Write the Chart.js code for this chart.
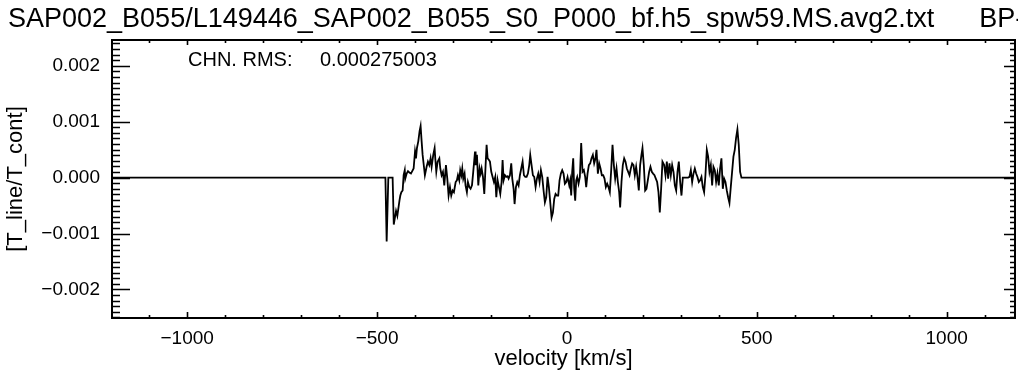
<!DOCTYPE html>
<html>
<head>
<meta charset="utf-8">
<script src="https://cdn.jsdelivr.net/npm/chart.js@4.4.1/dist/chart.umd.min.js"></script>
<style>
  body { margin: 0; background: #fff; }
  #wrap { width: 1018px; height: 376px; }
</style>
</head>
<body>
<div id="wrap"><canvas id="spec" width="1018" height="376"></canvas></div>
<script>
// spectrum: velocity [km/s] and T_line/T_cont
const velocity = [
  -1198, -478, -474.7, -470.3, -459, -456, -450, -446.6, -441, -438.7,
  -436, -432.6, -430, -427, -425.6, -422, -418.6, -415, -410.7, -403.7,
  -400, -397.5, -395, -391.4, -388, -385.3, -382.6, -380, -376.5, -374,
  -369.5, -366, -362.5, -359, -356.3, -352, -348.4, -346.7, -344, -340.5,
  -336, -333.5, -330, -326.5, -323, -318.6, -315, -311.6, -308, -304.6,
  -301, -297.6, -293, -289.7, -287, -283.5, -281, -278, -275.6, -273,
  -269.5, -267, -263.4, -260.7, -257, -253.7, -250, -246.7, -242, -240.4,
  -236.9, -233.4, -229.9, -227.2, -224.6, -221.1, -217.6, -214.1, -211.5, -208.8,
  -205.3, -202.7, -199.2, -195.7, -192.2, -188.7, -186, -182.5, -179, -175.5,
  -172, -169.4, -166.7, -163.2, -159.7, -156.2, -153.6, -150.1, -146.6, -143.9,
  -140.4, -137.8, -134.3, -130.8, -127.3, -123.8, -120.3, -116.7, -113.2, -109.7,
  -106.2, -102.7, -99.2, -96.6, -93.1, -89.6, -86.1, -82.5, -79, -75.5,
  -72, -68.5, -65, -61.5, -58, -54.5, -51, -47.5, -43.9, -40.4,
  -36.9, -33.4, -29.9, -26.4, -22.9, -19.4, -15.9, -12.4, -8.9, -5.4,
  -1.8, 1.7, 6.1, 8.7, 11.3, 13.9, 16.6, 19.2, 21.8, 24.5,
  27.1, 30.6, 34.1, 37.6, 41.1, 44.6, 48.1, 50.8, 54.3, 57.8,
  61.3, 64.8, 68.3, 71.8, 75.3, 77.9, 81.5, 85, 88.5, 92,
  95.5, 99, 102.5, 106, 109.5, 113, 116.6, 120.1, 123.6, 127.1,
  130.6, 134.1, 137.6, 140.2, 143.7, 147.2, 150.8, 154.3, 157.8, 161.3,
  164.8, 168.3, 171.8, 175.3, 178.8, 182.3, 185.8, 189.3, 192.8, 196.3,
  199, 202.5, 206, 209.5, 213, 216.5, 220, 223.5, 227, 230.6,
  234.1, 237.6, 241.1, 244.6, 248.1, 251.6, 256.1, 259.6, 263.1, 266.6,
  270.1, 273.6, 277.1, 280.7, 284.2, 287.7, 291.2, 294.7, 298.2, 301.7,
  305.2, 319.2, 322.8, 326.3, 329.8, 333.3, 336.8, 340.3, 343.8, 347.3,
  350.8, 354.3, 357.8, 361.3, 364.8, 368.4, 371.9, 375.4, 378.9, 382.4,
  385.9, 389.4, 392.9, 396.4, 399.9, 403.4, 406.9, 410.5, 414, 417.5,
  421, 424.5, 428, 431.5, 435, 438.5, 442, 445.5, 449, 452.5,
  456.1, 459.6, 1180
];
const ratio = [
  0, 0, -0.00114, 0, 0, -0.00084, -0.000594, -0.000685, -0.000412, -0.000321,
  -0.000261, -0.00023, 0.000042, 0.000133, -0.000018, 0.000072, 0.000115, 0.000091, 0.000072, 0.000163,
  0.000466, 0.000345, 0.000527, 0.000648, 0.00083, 0.000921, 0.000648, 0.000406, 0.000194, 0.000042,
  0.000194, 0.000285, 0.000224, 0.000345, 0.000194, 0.000406, 0.000527, 0.000345, 0.000103, 0.000285,
  0.000345, 0.000163, 0.000042, 0.000103, -0.000139, 0.000224, -0.000018, -0.000321, -0.00017, -0.000321,
  -0.00023, -0.000261, -0.000079, -0.000048, 0.000042, -0.000048, 0.000133, 0.000042, 0.000163, -0.000018,
  0.000072, -0.000139, -0.000261, -0.000079, -0.00017, -0.0002, -0.000139, 0.000103, 0.000466, 0.000224,
  0.000406, -0.000139, 0.000163, 0.000072, 0.000163, 0.000012, -0.000291, 0.000224, 0.000588, 0.000345,
  0.000315, 0.000285, 0.000103, 0.000012, -0.000079, 0.000012, -0.000352, -0.000048, -0.00017, -0.000291,
  -0.000079, 0.000315, -0.000048, 0.000042, 0.000012, 0.000024, -0.000018, 0.000042, 0.000254, -0.000018,
  -0.0002, -0.000473, -0.00017, -0.000079, -0.000139, 0.000042, 0.000163, 0.000285, 0.000042, 0.000012,
  0.000012, 0.000072, 0.000224, 0.000406, 0.000224, 0.000042, 0.000012, -0.00017, -0.000018, 0.000072,
  -0.000079, 0.000133, 0.000012, -0.00023, -0.000443, -0.000352, 0.000012, -0.00017, -0.000443, -0.000715,
  -0.000624, -0.000382, -0.000291, -0.000321, -0.000321, -0.000048, 0.000072, 0.000133, 0.000072, -0.000109,
  -0.000079, 0.000012, -0.000139, -0.000048, -0.000321, 0.000103, 0.000345, -0.0002, -0.000412, -0.000048,
  0.000012, -0.000109, 0.000012, 0.000618, 0.000103, 0.000133, 0.000012, -0.00017, 0.000072, 0.000224,
  0.000254, 0.000345, 0.000406, 0.000254, 0.000345, 0.000497, 0.000072, 0.000254, 0.000163, 0.000042,
  0.000042, -0.000018, -0.00017, -0.000109, -0.00017, -0.000261, 0.000133, 0.000588, 0.000224, -0.000018,
  0.000163, -0.000079, -0.000261, -0.000534, -0.000079, 0.000224, 0.000345, 0.000285, 0.000163, 0.000103,
  0.000042, 0.000163, 0.000254, 0.000224, 0.000042, 0.000194, 0.000012, -0.00023, 0.000224, 0.000406,
  0.000527, 0.000224, -0.00023, -0.0002, -0.000048, 0.000103, 0.000194, 0.000103, 0.000072, 0.000042,
  -0.000018, -0.000079, -0.000261, -0.000624, -0.0002, 0.000285, 0.000224, 0.000042, 0.000285, -0.000018,
  0.000254, 0.000042, 0.000224, 0.000103, -0.000139, -0.00023, 0.000103, 0.000285, -0.000079, -0.000321,
  0, 0, 0.000012, 0.000133, -0.000079, 0.000072, 0.000163, 0.000072, 0.000012, -0.000079,
  -0.000048, 0.000012, -0.00017, -0.000261, 0.000042, 0.000497, 0.000376, 0.000103, 0.000224, -0.000139,
  0.000194, 0.000133, -0.000079, 0.000072, -0.000139, 0.000163, 0.000345, -0.0002, -0.000018, -0.000079,
  -0.00023, -0.000352, -0.000455, -0.00017, 0.000103, 0.000376, 0.000497, 0.000709, 0.00086, 0.000588,
  0.000103, 0, 0
];

const xTicks = [-1000, -500, 0, 500, 1000];
const yTicks = [-0.002, -0.001, 0, 0.001, 0.002];
const xMinorStep = 100, yMinorStep = 0.0001;

const titleText = 'SAP002_B055/L149446_SAP002_B055_S0_P000_bf.h5_spw59.MS.avg2.txt      BP-';
const rmsLabel = 'CHN. RMS:';
const rmsValue = '0.000275003';

const FONT = '"Liberation Sans", Arial, Helvetica, sans-serif';

function fmtMinus(s) { return s.replace('-', '\u2212'); }

// IDL-style box with inward ticks, title and RMS note
const idlFrame = {
  id: 'idlFrame',
  afterDraw(chart) {
    const { ctx, chartArea: a, scales } = chart;
    const xs = scales.x, ys = scales.y;
    ctx.save();
    ctx.strokeStyle = '#000';
    ctx.lineWidth = 2;
    ctx.strokeRect(a.left, a.top, a.right - a.left, a.bottom - a.top);

    ctx.lineWidth = 1.6;
    ctx.beginPath();
    for (let n = Math.ceil(xs.min / xMinorStep); n * xMinorStep <= xs.max; n++) {
      const px = Math.round(xs.getPixelForValue(n * xMinorStep)) + 0.5;
      const major = n % 5 === 0;
      ctx.moveTo(px, a.bottom); ctx.lineTo(px, a.bottom - (major ? 6 : 3));
      ctx.moveTo(px, a.top); ctx.lineTo(px, a.top + (major ? 5 : 3));
    }
    const n0 = Math.ceil(ys.min / yMinorStep), n1 = Math.floor(ys.max / yMinorStep);
    for (let n = n0; n <= n1; n++) {
      const py = Math.round(ys.getPixelForValue(n * yMinorStep)) + 0.5;
      const major = n % 10 === 0;
      ctx.moveTo(a.left, py); ctx.lineTo(a.left + (major ? 18 : 8), py);
      ctx.moveTo(a.right, py); ctx.lineTo(a.right - (major ? 11 : 5), py);
    }
    ctx.stroke();

    ctx.fillStyle = '#000';
    ctx.textBaseline = 'alphabetic';
    ctx.textAlign = 'left';
    ctx.font = '27px ' + FONT;
    ctx.fillText(titleText, 8, 27);

    ctx.font = '20px ' + FONT;
    ctx.fillText(rmsLabel, a.left + 76, 66);
    ctx.fillText(rmsValue, a.left + 208, 66);
    ctx.restore();
  }
};

const points = velocity.map((v, i) => ({ x: v, y: ratio[i] }));

new Chart(document.getElementById('spec'), {
  type: 'line',
  data: {
    datasets: [{
      data: points,
      borderColor: '#000',
      borderWidth: 1.8,
      pointRadius: 0,
      tension: 0,
      fill: false
    }]
  },
  options: {
    responsive: false,
    animation: false,
    layout: { padding: { left: 0, right: 3, top: 40, bottom: 0 } },
    plugins: { legend: { display: false }, tooltip: { enabled: false } },
    scales: {
      x: {
        type: 'linear',
        min: -1198,
        max: 1180,
        afterFit(s) { s.height = 58; },
        afterBuildTicks(s) { s.ticks = xTicks.map(v => ({ value: v })); },
        grid: { display: false, drawTicks: false },
        border: { display: false },
        ticks: {
          autoSkip: false,
          maxRotation: 0,
          padding: 9,
          color: '#000',
          font: { family: FONT, size: 19 },
          callback: v => fmtMinus(String(Math.round(v)))
        },
        title: {
          display: true,
          text: 'velocity [km/s]',
          color: '#000',
          font: { family: FONT, size: 22 },
          padding: { top: 0, bottom: 4 }
        }
      },
      y: {
        min: -0.00251,
        max: 0.00246,
        afterFit(s) { s.width = 112; },
        afterBuildTicks(s) { s.ticks = yTicks.map(v => ({ value: v })); },
        grid: { display: false, drawTicks: false },
        border: { display: false },
        ticks: {
          padding: 12,
          color: '#000',
          font: { family: FONT, size: 19 },
          callback: v => Math.abs(v) < 1e-9 ? '0.000' : fmtMinus(v.toFixed(3))
        },
        title: {
          display: true,
          text: '[T_line/T_cont]',
          color: '#000',
          font: { family: FONT, size: 22 },
          padding: { top: 3, bottom: 3 }
        }
      }
    }
  },
  plugins: [idlFrame]
});
</script>
</body>
</html>
